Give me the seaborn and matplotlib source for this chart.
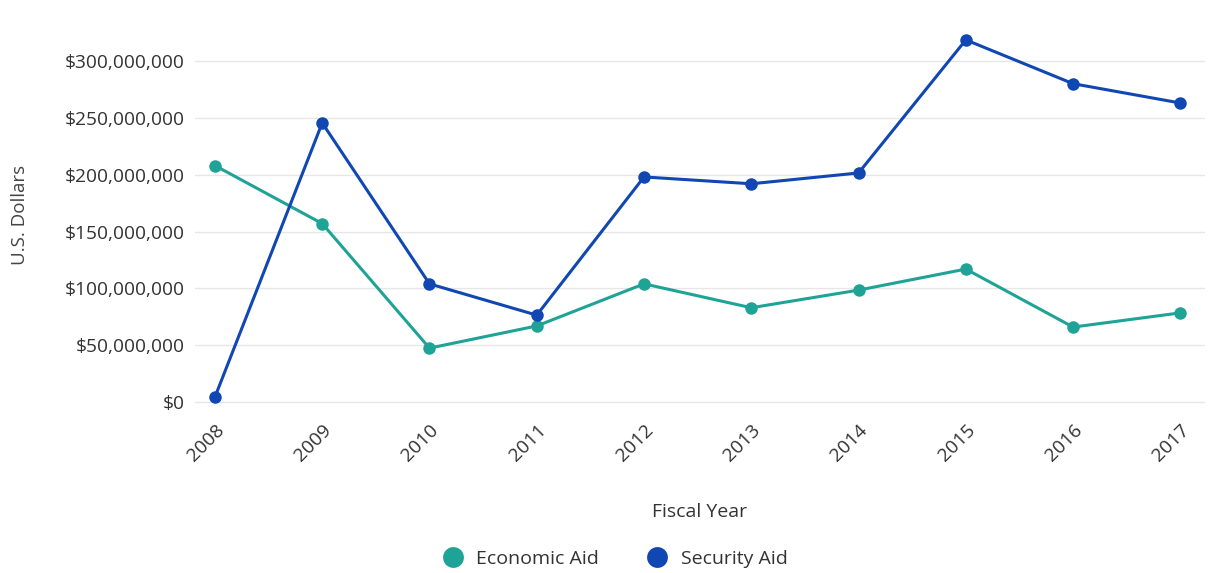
import matplotlib
matplotlib.use("Agg")
import matplotlib.pyplot as plt
import matplotlib.ticker as mticker
from matplotlib.lines import Line2D
import seaborn as sns
import pandas as pd

years = [2008, 2009, 2010, 2011, 2012, 2013, 2014, 2015, 2016, 2017]
economic_aid = [208e6, 157e6, 47.5e6, 67e6, 104e6, 83e6, 98.5e6, 117e6, 66e6, 78.5e6]
security_aid = [4.5e6, 245.5e6, 104e6, 76.5e6, 198e6, 192e6, 201.5e6, 318.5e6, 280e6, 263e6]
series_names = ["Economic Aid", "Security Aid"]
colors = ["#1fa396", "#1047b3"]

df = pd.DataFrame({
    "year": years * 2,
    "value": economic_aid + security_aid,
    "series": [series_names[0]] * len(years) + [series_names[1]] * len(years),
})

sns.set_theme(style="white")
plt.rcParams["font.family"] = ["Open Sans", "DejaVu Sans"]

fig = plt.figure(figsize=(12.16, 5.73), dpi=100)
# y=0 at pixel 402, 300M at pixel 61
ax = fig.add_axes([0.160, 0.2950, 0.831, 0.6582])

sns.lineplot(data=df, x="year", y="value", hue="series", palette=colors,
             marker="o", markersize=9, markeredgewidth=0, linewidth=2.2,
             ax=ax, legend=False, zorder=3)

ax.set_xlim(2008 - 0.19, 2017 + 0.23)
ax.set_ylim(-1.6e6, 330e6)
ax.set_yticks([0, 50e6, 100e6, 150e6, 200e6, 250e6, 300e6])
ax.yaxis.set_major_formatter(mticker.FuncFormatter(lambda v, p: "${:,.0f}".format(v)))
ax.set_xticks(years)
ax.set_xticklabels([str(y) for y in years], rotation=45, ha="right",
                   rotation_mode="anchor")
ax.grid(axis="y", color="#e6e6e6", linewidth=1)
ax.grid(axis="x", visible=False)
for s in ax.spines.values():
    s.set_visible(False)
ax.tick_params(axis="both", length=0, labelsize=13.8, colors="#333333")
ax.tick_params(axis="y", pad=7)
ax.tick_params(axis="x", pad=12)

ax.set_xlabel("Fiscal Year", fontsize=14, color="#333333", labelpad=28)
ax.set_ylabel("U.S. Dollars", fontsize=13.5, color="#444444", labelpad=26)

handles = [Line2D([0], [0], marker="o", linestyle="none", markersize=15,
                  markerfacecolor=c, markeredgewidth=0) for c in colors]
fig.legend(handles, series_names, loc="center", bbox_to_anchor=(0.502, 0.024),
           ncol=2, frameon=False, fontsize=14, handletextpad=0.2,
           columnspacing=2.0, labelcolor="#333333")

fig.savefig("out.png", dpi=100, facecolor="white")
